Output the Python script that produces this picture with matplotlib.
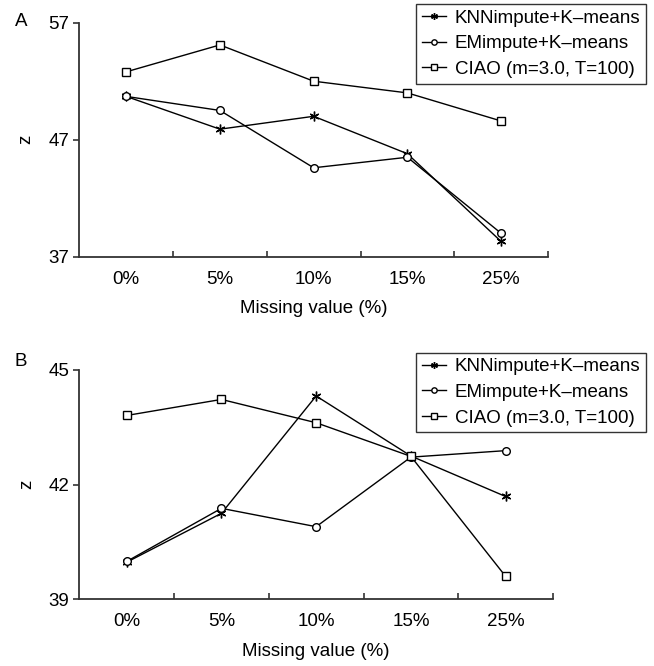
import matplotlib
matplotlib.use("Agg")
import matplotlib.pyplot as plt
import numpy as np

plt.rcParams['font.family'] = ['Liberation Sans', 'DejaVu Sans']

categories = ["0%", "5%", "10%", "15%", "25%"]
series_names = ["KNNimpute+K\u2013means", "EMimpute+K\u2013means", "CIAO (m=3.0, T=100)"]

# Panel A
knn_a = [50.7, 47.9, 49.0, 45.8, 38.3]
em_a = [50.7, 49.5, 44.6, 45.5, 39.0]
ciao_a = [52.8, 55.1, 52.0, 51.0, 48.6]
yticks_a = [37, 47, 57]

# Panel B
knn_b = [39.97, 41.25, 44.32, 42.75, 41.69]
em_b = [39.99, 41.38, 40.90, 42.72, 42.89]
ciao_b = [43.81, 44.23, 43.62, 42.74, 39.60]
yticks_b = [39, 42, 45]

xlabel = "Missing value (%)"
ylabel = "z"

fig = plt.figure(figsize=(6.54, 6.66), dpi=100)
axA = fig.add_axes([79.3/654, 1-256.7/666, (548-79.3)/654, 234/666])
axB = fig.add_axes([79.3/654, 1-599.3/666, (553-79.3)/654, 229.3/666])

markers = [(6, 2, 0), 'o', 's']
sizes = [7.0, 5.5, 5.5]
FS = 13.5

def draw(ax, data, yticks, legend_anchor):
    x = np.arange(len(categories))
    handles = []
    for vals, m, ms, name in zip(data, markers, sizes, series_names):
        h, = ax.plot(x, vals, color='black', lw=1.0, marker=m, ms=ms,
                     mfc='white', mec='black', mew=1.0, label=name)
        handles.append(h)
    ax.set_xlim(-0.5, len(categories) - 0.5)
    ax.set_ylim(yticks[0], yticks[-1])
    ax.set_yticks(yticks)
    ax.set_yticklabels([str(t) for t in yticks], fontsize=FS)
    ax.set_xticks(x)
    ax.set_xticklabels(categories, fontsize=FS)
    ax.tick_params(axis='x', which='major', length=0, pad=10)
    ax.set_xticks(np.arange(len(categories)) + 0.5, minor=True)
    ax.tick_params(axis='x', which='minor', direction='in', length=4, width=1.2, color='#333333')
    ax.tick_params(axis='y', direction='out', length=4, width=1.2, color='#333333', pad=3)
    for s in ['top', 'right']:
        ax.spines[s].set_visible(False)
    for s in ['left', 'bottom']:
        ax.spines[s].set_linewidth(1.3)
        ax.spines[s].set_color('#333333')
    ax.set_xlabel(xlabel, fontsize=FS, labelpad=9)
    ax.set_ylabel(ylabel, fontsize=FS, labelpad=10)
    leg = fig.legend(handles=handles, loc='upper right', bbox_to_anchor=legend_anchor,
                     bbox_transform=fig.transFigure, fontsize=FS, frameon=True,
                     fancybox=False, edgecolor='black', borderaxespad=0,
                     handlelength=1.3, handletextpad=0.45, labelspacing=0.45,
                     borderpad=0.3, markerscale=0.7)
    leg.get_frame().set_linewidth(1.0)
    return leg

draw(axA, [knn_a, em_a, ciao_a], yticks_a, (646/654, 1-4/666))
draw(axB, [knn_b, em_b, ciao_b], yticks_b, (646/654, 1-352.7/666))

fig.text(21/654, 1-21/666, "A", fontsize=FS, ha='center', va='center')
fig.text(21/654, 1-361.5/666, "B", fontsize=FS, ha='center', va='center')

fig.savefig("out.png", dpi=100)
